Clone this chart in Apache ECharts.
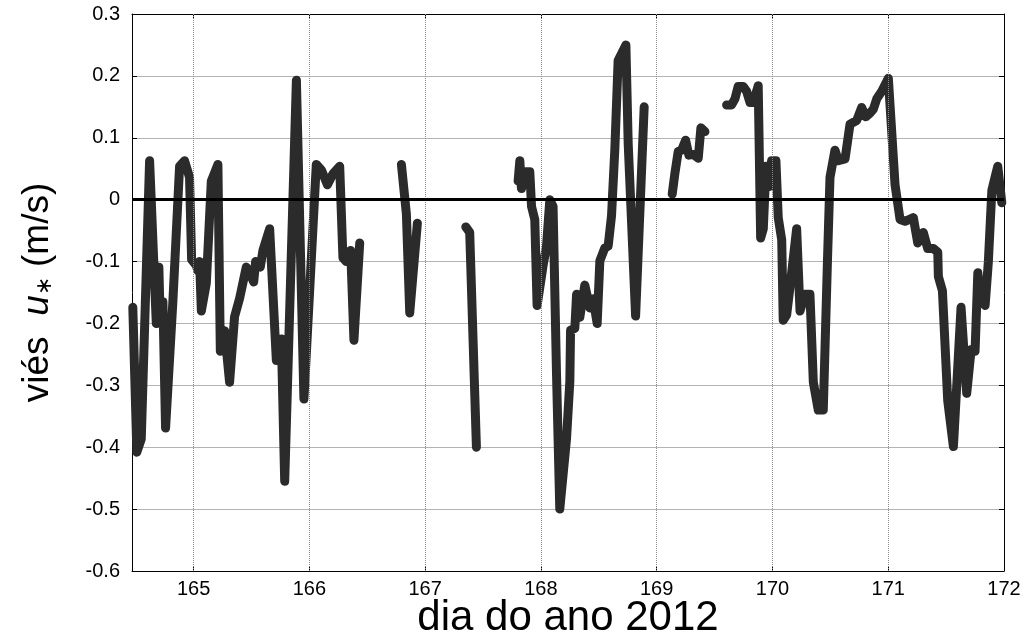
<!DOCTYPE html>
<html>
<head>
<meta charset="utf-8">
<script src="https://cdn.jsdelivr.net/npm/echarts@6/dist/echarts.min.js"></script>
<style>
  html, body { margin: 0; padding: 0; background: #fff; }
  #main { width: 1030px; height: 635px; }
</style>
</head>
<body>
<div id="main"></div>
<script>
// dia do ano (null = falha nos dados)
var dias = [
  164.475, 164.510, 164.548, 164.620, 164.678, 164.700, 164.712, 164.735, 164.758, 164.821,
  164.879, 164.922, 164.965, 164.983, 165.023, 165.037, 165.052, 165.067, 165.110, 165.153,
  165.210, 165.231, 165.268, 165.311, 165.354, 165.398, 165.455, 165.484, 165.519, 165.536,
  165.576, 165.599, 165.657, 165.715, 165.758, 165.787, 165.888, 165.953, 166.060, 166.104,
  166.156, 166.204, 166.262, 166.290, 166.320, 166.357, 166.385, 166.435, 166.600,
  166.795, 166.838, 166.867, 166.933, 167.100,
  167.351, 167.385, 167.443, 167.600,
  167.803, 167.818, 167.832, 167.869, 167.904, 167.919, 167.947, 167.967, 168.019, 168.048,
  168.077, 168.105, 168.135, 168.163, 168.221, 168.250, 168.256, 168.293, 168.308, 168.336,
  168.379, 168.423, 168.451, 168.486, 168.509, 168.552, 168.581, 168.610, 168.639, 168.667,
  168.734, 168.754, 168.818, 168.892, 169.000,
  169.134, 169.157, 169.186, 169.215, 169.250, 169.278, 169.316, 169.359, 169.382, 169.417, 169.500,
  169.604, 169.647, 169.676, 169.704, 169.748, 169.777, 169.806, 169.834, 169.877, 169.898,
  169.921, 169.944, 169.972, 169.993, 170.030, 170.050, 170.080, 170.093, 170.123, 170.166,
  170.209, 170.238, 170.281, 170.324, 170.353, 170.396, 170.439, 170.474, 170.497, 170.540,
  170.569, 170.627, 170.670, 170.728, 170.771, 170.806, 170.843, 170.871, 170.901, 170.944,
  171.001, 171.059, 171.102, 171.145, 171.217, 171.255, 171.303, 171.341, 171.390, 171.428,
  171.433, 171.468, 171.514, 171.563, 171.629, 171.678, 171.716, 171.750, 171.774, 171.793,
  171.837, 171.865, 171.895, 171.946, 171.981
];

// viés u* (m/s)
var vies = [
  -0.174, -0.408, -0.387, 0.063, -0.200, -0.109, -0.200, -0.165, -0.369, -0.165,
  0.054, 0.063, 0.036, -0.097, -0.106, -0.115, -0.100, -0.180, -0.135, 0.030,
  0.057, -0.245, -0.212, -0.295, -0.189, -0.159, -0.109, -0.118, -0.133, -0.100,
  -0.109, -0.082, -0.047, -0.260, -0.225, -0.455, 0.193, -0.322, 0.057, 0.048,
  0.024, 0.042, 0.054, -0.094, -0.100, -0.082, -0.227, -0.070, null,
  0.057, -0.023, -0.183, -0.038, null,
  -0.044, -0.053, -0.400, null,
  0.030, 0.063, 0.018, 0.045, 0.045, -0.011, -0.032, -0.171, -0.106, -0.076,
  0.000, -0.011, -0.283, -0.500, -0.387, -0.293, -0.211, -0.208, -0.153, -0.190,
  -0.138, -0.175, -0.160, -0.200, -0.099, -0.078, -0.075, -0.026, 0.083, 0.225,
  0.250, 0.090, -0.188, 0.150, null,
  0.009, 0.042, 0.078, 0.080, 0.096, 0.072, 0.073, 0.067, 0.116, 0.110, null,
  0.153, 0.153, 0.163, 0.183, 0.183, 0.175, 0.157, 0.157, 0.184, -0.062,
  -0.047, 0.054, 0.021, 0.063, 0.063, -0.029, -0.065, -0.195, -0.186, -0.118,
  -0.047, -0.180, -0.153, -0.153, -0.295, -0.340, -0.340, -0.106, 0.036, 0.080,
  0.063, 0.066, 0.122, 0.128, 0.149, 0.134, 0.140, 0.146, 0.163, 0.175,
  0.196, 0.024, -0.032, -0.035, -0.029, -0.070, -0.053, -0.079, -0.079, -0.085,
  -0.124, -0.147, -0.325, -0.399, -0.174, -0.313, -0.242, -0.245, -0.118, -0.159,
  -0.171, -0.100, 0.015, 0.054, -0.005
];

var xTicks = [165, 166, 167, 168, 169, 170, 171, 172];
var yTicks = [-0.6, -0.5, -0.4, -0.3, -0.2, -0.1, 0, 0.1, 0.2, 0.3];

var serie = dias.map(function (d, i) {
  return [d, vies[i] === null ? '-' : vies[i]];
});

var fonte = '"Liberation Sans", Arial, sans-serif';

// eixo x: os ticks não partem do min, por isso customValues
var eixoX = {
  type: 'value',
  min: 164.468,
  max: 172,
  axisLine: { onZero: false, lineStyle: { color: '#000', width: 1 } },
  axisTick: { inside: true, length: 5, lineStyle: { color: '#000' }, customValues: xTicks },
  splitLine: { show: false }
};
var eixoY = {
  type: 'value',
  min: -0.6,
  max: 0.3,
  interval: 0.1,
  axisLine: { show: true, lineStyle: { color: '#000', width: 1 } },
  axisTick: { inside: true, length: 5, lineStyle: { color: '#000' } },
  splitLine: { show: false }
};

var myChart = echarts.init(document.getElementById('main'));
var option = {
  backgroundColor: '#fff',
  animation: false,
  grid: { left: 132, right: 26, top: 14, bottom: 64, outerBoundsMode: 'none', containLabel: false },
  xAxis: [
    Object.assign({}, eixoX, {
      position: 'bottom',
      name: 'dia do ano 2012',
      nameLocation: 'middle',
      nameGap: 26,
      nameMoveOverlap: false,
      nameTextStyle: { fontFamily: fonte, fontSize: 42, color: '#000' },
      axisLabel: {
        fontFamily: fonte, fontSize: 20, color: '#000', margin: 8,
        customValues: xTicks
      }
    }),
    Object.assign({}, eixoX, { position: 'top', axisLabel: { show: false } })
  ],
  yAxis: [
    Object.assign({}, eixoY, {
      position: 'left',
      name: '{a|viés  }{u|u}{s|∗}{a| (m/s)}',
      nameLocation: 'middle',
      nameGap: 76,
      nameMoveOverlap: false,
      nameTextStyle: {
        fontFamily: fonte, color: '#000',
        rich: {
          a: { fontFamily: fonte, fontSize: 37, color: '#000' },
          u: { fontFamily: fonte, fontSize: 37, fontStyle: 'italic', color: '#000' },
          s: { fontFamily: fonte, fontSize: 22, color: '#000', padding: [14, 0, 0, 0] }
        }
      },
      axisLabel: {
        fontFamily: fonte, fontSize: 20, color: '#000', margin: 12,
        formatter: function (v) {
          var r = Math.round(v * 10) / 10;
          return r === 0 ? '0' : String(r);
        }
      },
      splitLine: { show: true, lineStyle: { color: '#b4b4b4', type: 'solid', width: 1 } }
    }),
    Object.assign({}, eixoY, { position: 'right', axisLabel: { show: false } })
  ],
  series: [
    {
      // grelha vertical pontilhada nos dias inteiros
      type: 'line',
      data: [],
      markLine: {
        silent: true,
        symbol: 'none',
        label: { show: false },
        lineStyle: { color: '#8a8a8a', width: 1, type: 'dotted' },
        data: xTicks.slice(0, -1).map(function (t) { return { xAxis: t }; })
      },
      z: 1
    },
    {
      type: 'line',
      data: serie,
      showSymbol: false,
      connectNulls: false,
      lineStyle: { color: '#2b2b2b', width: 9, cap: 'round', join: 'round' },
      markLine: {
        silent: true,
        symbol: 'none',
        label: { show: false },
        lineStyle: { color: '#000', width: 3, type: 'solid' },
        data: [{ yAxis: 0 }]
      },
      z: 3
    }
  ]
};
myChart.setOption(option);
</script>
</body>
</html>
